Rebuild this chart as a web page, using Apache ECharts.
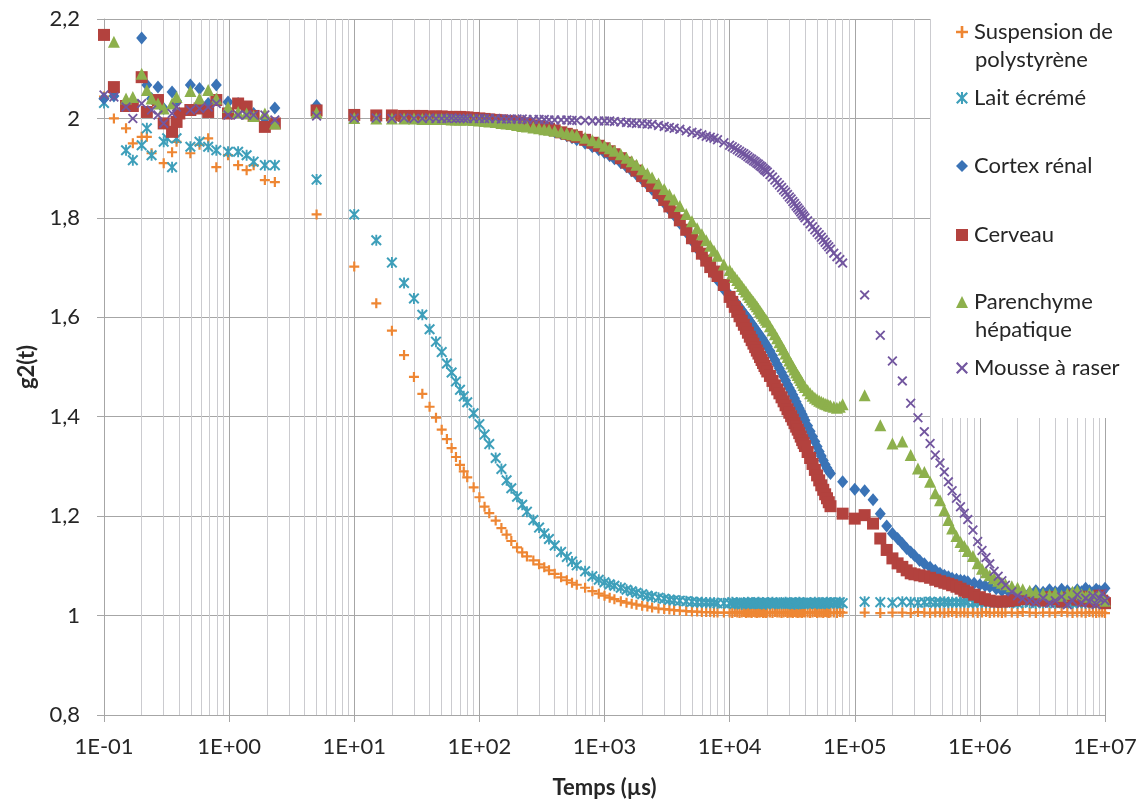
<!DOCTYPE html>
<html><head><meta charset="utf-8">
<script src="https://cdn.jsdelivr.net/npm/echarts@6/dist/echarts.min.js"></script>
<style>html,body{margin:0;padding:0;background:#fff}#chart{width:1143px;height:808px}</style>
</head><body><div id="chart"></div>
<script>
// ---------- DATA ----------
const timesEarly = [0.1,0.12,0.15,0.17,0.2,0.22,0.24,0.27,0.3,0.32,0.35,0.38,0.4,0.49,0.58,0.68,0.79,0.98,1.18,1.38,1.57,1.93,2.32];
const timesDense = [5,10,15,20,25,30,35,40,45,50,55,60,65,70,75,80,
  90,100,110,120,135,150,165,180,200,220,240,270,300,330,360,400,450,500,550,600,700,800,900,
  1000,1100,1200,1350,1500,1650,1800,2000,2200,2400,2700,3000,3300,3600,4000,4500,5000,5500,6000,6500,7000,7500,8000,9000,
  10000,10500,11000,11500,12000,12500,13000,13500,14000,14500,15000,15500,16000,16500,17000,17500,18000,18500,19000,19500,20000,
  21000,22000,23000,24000,25000,26000,27000,28000,29000,30000,31000,32000,33000,34000,35000,36000,37000,38000,39000,40000,
  42000,44000,46000,48000,50000,52000,54000,56000,58000,60000,62000,64000];
const timesTailA = [80000,100000,120000,140000,160000,180000,200000,220000,240000,260000,280000,
  300000,330000,360000,400000,440000,480000,520000,560000,600000,650000,700000,750000,800000,900000,
  1e6,1.1e6,1.2e6,1.35e6,1.5e6,1.7e6,1.9e6,2.2e6,2.5e6,2.8e6,
  3.2e6,3.6e6,4e6,4.5e6,5e6,5.5e6,6e6,6.5e6,7e6,7.5e6,8e6,8.5e6,9e6,9.5e6,1e7];
const timesTailB = [68000,72000,76000,80000,
  120000,160000,200000,240000,280000,320000,360000,400000,440000,480000,520000,560000,600000,650000,700000,750000,800000,
  880000,960000,1.04e6,1.12e6,1.2e6,1.3e6,1.4e6,1.5e6,1.6e6,1.8e6,2e6,2.2e6,2.5e6,2.8e6,
  3.2e6,3.6e6,4e6,4.5e6,5e6,5.5e6,6e6,6.5e6,7e6,7.5e6,8e6,8.5e6,9e6,9.5e6,1e7];

const seriesNames = ['Suspension de polystyrène','Lait écrémé','Cortex rénal','Cerveau','Parenchyme hépatique','Mousse à raser'];

// Suspension de polystyrène
const polyEarly = [2.044,2.0,1.98,1.95,1.963,1.963,1.93,null,1.91,null,1.932,1.953,null,1.93,1.947,1.96,1.902,1.926,1.906,1.896,1.906,1.876,1.872];
const polyDense = [1.807,1.702,1.628,1.573,1.524,1.480,1.446,1.420,1.398,1.374,1.355,1.337,1.319,1.303,1.290,1.278,
  1.258,1.238,1.219,1.206,1.191,1.176,1.163,1.150,1.137,1.127,1.119,1.111,1.103,1.097,1.091,1.084,1.077,1.071,1.066,1.062,1.056,1.049,1.044,
  1.040,1.036,1.033,1.029,1.026,1.024,1.022,1.020,1.018,1.016,1.014,1.013,1.012,1.011,1.010,1.009,1.008,1.008,1.007,1.007,1.007,1.006,1.006,1.006,
  1.006,1.005,1.007,1.006,1.005,1.006,1.007,1.005,1.006,1.006,1.005,1.007,1.006,1.005,1.006,1.006,1.007,1.005,1.006,1.005,1.006,
  1.006,1.005,1.007,1.006,1.006,1.005,1.006,1.007,1.005,1.006,1.006,1.005,1.007,1.006,1.005,1.006,1.006,1.005,1.007,1.006,
  1.006,1.005,1.006,1.007,1.005,1.006,1.006,1.005,1.007,1.006,1.005,1.006];
const polyTail = [1.006,1.005,1.007,1.006,
  1.006,1.005,1.006,1.006,1.005,1.007,1.006,1.005,1.006,1.006,1.005,1.006,1.007,1.005,1.006,1.006,1.005,
  1.006,1.005,1.006,1.007,1.005,1.006,1.006,1.005,1.006,1.006,1.005,1.007,1.006,1.005,
  1.006,1.006,1.005,1.007,1.006,1.005,1.006,1.006,1.005,1.007,1.006,1.005,1.006,1.006,1.005];

// Lait écrémé
const laitEarly = [2.031,null,1.936,1.916,1.946,1.98,1.926,null,1.953,1.96,1.902,1.96,null,1.943,1.953,1.943,1.936,1.933,1.933,1.926,1.913,1.906,1.906];
const laitDense = [1.877,1.807,1.755,1.710,1.669,1.638,1.605,1.576,1.551,1.530,1.507,1.489,1.471,1.454,1.441,1.429,
  1.407,1.385,1.364,1.345,1.317,1.295,1.272,1.256,1.239,1.223,1.209,1.192,1.177,1.165,1.154,1.141,1.128,1.118,1.109,1.101,1.089,1.079,1.072,
  1.067,1.063,1.060,1.056,1.052,1.049,1.046,1.043,1.040,1.038,1.036,1.034,1.032,1.031,1.030,1.029,1.028,1.027,1.027,1.026,1.026,1.026,1.025,1.025,
  1.025,1.027,1.024,1.026,1.025,1.023,1.026,1.025,1.027,1.024,1.025,1.026,1.024,1.025,1.027,1.025,1.024,1.026,1.025,1.023,1.026,
  1.025,1.027,1.024,1.025,1.026,1.024,1.025,1.027,1.025,1.024,1.026,1.025,1.023,1.026,1.025,1.027,1.024,1.025,1.026,1.025,
  1.024,1.026,1.025,1.027,1.024,1.025,1.026,1.025,1.024,1.027,1.025,1.026];
const laitTail = [1.026,1.025,1.027,1.025,
  1.028,1.027,1.026,1.028,1.027,1.026,1.027,1.028,1.026,1.027,1.028,1.026,1.027,1.027,1.026,1.028,1.027,
  1.026,1.027,1.028,1.026,1.027,1.026,1.028,1.027,1.026,1.027,1.025,1.027,1.026,1.025,
  1.026,1.027,1.025,1.026,1.027,1.025,1.026,1.027,1.025,1.026,1.027,1.026,1.025,1.027,1.026];

// Cortex rénal
const cortexEarly = [2.04,2.045,2.03,null,2.162,2.067,2.04,2.063,2.02,null,2.053,2.035,2.01,2.067,2.06,2.03,2.067,2.033,2.03,2.016,2.01,2.0,2.021];
const cortexDense = [2.026,2.006,2.004,2.004,2.003,2.003,2.003,2.003,2.002,2.002,2.002,2.002,2.001,2.001,2.001,2.000,
  2.000,1.999,1.998,1.997,1.996,1.995,1.994,1.993,1.991,1.989,1.987,1.985,1.982,1.979,1.977,1.973,1.969,1.965,1.961,1.957,1.950,1.943,1.937,
  1.931,1.925,1.919,1.911,1.903,1.895,1.887,1.877,1.867,1.857,1.843,1.830,1.817,1.805,1.789,1.771,1.754,1.738,1.724,1.710,1.697,1.686,1.675,1.656,
  1.645,1.638,1.632,1.626,1.620,1.614,1.608,1.603,1.598,1.592,1.587,1.582,1.577,1.572,1.568,1.563,1.559,1.554,1.550,1.545,1.541,
  1.532,1.523,1.514,1.505,1.497,1.489,1.481,1.473,1.465,1.458,1.451,1.444,1.437,1.430,1.423,1.417,1.411,1.405,1.399,1.393,
  1.382,1.371,1.360,1.350,1.340,1.330,1.321,1.312,1.304,1.297,1.291,1.286];
const cortexTail = [1.269,1.254,1.251,1.233,1.205,1.180,1.165,1.155,1.145,1.135,1.128,
  1.121,1.111,1.104,1.097,1.091,1.085,1.081,1.078,1.075,1.073,1.071,1.070,1.068,1.065,
  1.062,1.060,1.058,1.054,1.050,1.048,1.046,1.044,1.046,1.050,
  1.047,1.052,1.048,1.053,1.050,1.045,1.052,1.048,1.055,1.050,1.046,1.053,1.050,1.048,1.055];

// Cerveau
const cerveauEarly = [2.168,2.063,2.025,2.025,2.083,2.013,null,2.037,1.99,null,1.973,1.993,2.01,2.017,2.02,2.013,2.037,2.01,2.03,2.024,2.005,1.983,1.99];
const cerveauDense = [2.016,2.007,2.006,2.006,2.005,2.005,2.005,2.004,2.004,2.004,2.003,2.003,2.003,2.003,2.002,2.002,
  2.001,2.000,1.999,1.998,1.997,1.996,1.995,1.994,1.992,1.990,1.989,1.986,1.984,1.981,1.979,1.976,1.972,1.969,1.966,1.963,1.957,1.951,1.945,
  1.940,1.934,1.928,1.920,1.911,1.903,1.895,1.884,1.874,1.864,1.850,1.836,1.823,1.811,1.795,1.776,1.759,1.743,1.728,1.714,1.701,1.692,1.683,1.665,
  1.641,1.631,1.621,1.611,1.602,1.593,1.585,1.577,1.569,1.561,1.554,1.547,1.540,1.533,1.527,1.520,1.514,1.508,1.502,1.497,1.491,
  1.482,1.472,1.463,1.455,1.447,1.439,1.431,1.423,1.415,1.408,1.401,1.394,1.387,1.380,1.374,1.367,1.360,1.353,1.347,1.341,
  1.329,1.317,1.305,1.293,1.282,1.272,1.262,1.253,1.244,1.236,1.228,1.220];
const cerveauTail = [1.205,1.195,1.202,1.185,1.155,1.132,1.115,1.105,1.098,1.091,1.085,
  1.083,1.081,1.079,1.076,1.072,1.069,1.066,1.064,1.061,1.058,1.054,1.050,1.047,1.042,
  1.037,1.033,1.030,1.028,1.028,1.029,1.031,1.033,1.035,1.032,
  1.030,1.037,1.033,1.028,1.036,1.040,1.032,1.038,1.030,1.035,1.028,1.034,1.040,1.030,1.025];

// Parenchyme hépatique
const parenEarly = [null,2.154,2.04,2.043,2.09,2.057,2.04,2.03,2.02,null,2.03,2.043,null,2.055,2.04,2.057,2.04,2.023,2.013,2.01,2.005,2.01,1.99];
const parenDense = [2.012,2.001,2.000,2.000,2.000,2.000,1.999,1.999,1.999,1.999,1.999,1.998,1.998,1.998,1.998,1.998,
  1.997,1.996,1.995,1.994,1.993,1.991,1.990,1.989,1.987,1.985,1.984,1.982,1.980,1.978,1.977,1.975,1.973,1.970,1.968,1.966,1.961,1.956,1.952,
  1.945,1.940,1.935,1.928,1.921,1.914,1.907,1.898,1.889,1.881,1.869,1.858,1.847,1.837,1.824,1.808,1.793,1.779,1.767,1.755,1.744,1.734,1.724,1.706,
  1.695,1.688,1.681,1.675,1.669,1.663,1.657,1.652,1.646,1.641,1.636,1.631,1.626,1.622,1.617,1.612,1.608,1.603,1.599,1.595,1.591,
  1.582,1.574,1.566,1.558,1.550,1.542,1.535,1.527,1.520,1.513,1.507,1.501,1.495,1.489,1.484,1.479,1.474,1.469,1.464,1.460,
  1.453,1.447,1.442,1.438,1.435,1.432,1.430,1.428,1.426,1.425,1.423,1.422];
const parenTail = [1.420,1.418,1.420,1.425,
  1.443,1.383,1.346,1.350,1.323,1.296,1.289,1.269,1.246,1.232,1.212,1.192,1.175,1.160,1.148,1.140,1.130,
  1.120,1.105,1.094,1.087,1.081,1.075,1.070,1.066,1.063,1.059,1.056,1.053,1.050,1.047,
  1.044,1.042,1.045,1.040,1.044,1.048,1.050,1.043,1.038,1.045,1.040,1.036,1.042,1.035,1.030];

// Mousse à raser
const mousseEarly = [2.047,2.043,2.023,2.0,2.03,null,2.017,2.007,1.99,null,2.01,2.023,null,2.017,2.02,2.023,2.03,2.007,2.007,2.007,2.007,2.007,1.997];
const mousseDense = [2.005,2.001,2.001,2.000,2.001,2.000,2.000,2.001,2.000,2.000,2.000,2.001,2.000,2.000,2.000,2.000,
  2.000,2.000,2.000,2.000,2.000,1.999,1.999,1.999,1.999,1.999,1.998,1.998,1.998,1.998,1.997,1.997,1.997,1.997,1.996,1.996,1.996,1.995,1.995,
  1.995,1.995,1.994,1.993,1.992,1.991,1.990,1.990,1.989,1.988,1.986,1.984,1.982,1.980,1.978,1.975,1.972,1.970,1.967,1.964,1.962,1.960,1.957,1.951,
  1.946,1.943,1.940,1.937,1.934,1.931,1.929,1.926,1.923,1.920,1.918,1.915,1.913,1.910,1.908,1.905,1.903,1.900,1.897,1.895,1.892,
  1.887,1.882,1.876,1.871,1.866,1.861,1.856,1.852,1.847,1.842,1.838,1.833,1.829,1.824,1.820,1.816,1.812,1.808,1.804,1.800,
  1.794,1.788,1.782,1.776,1.771,1.766,1.761,1.756,1.751,1.746,1.742,1.737];
const mousseTail = [1.729,1.722,1.716,1.709,
  1.645,1.564,1.512,1.472,1.427,1.398,1.370,1.346,1.323,1.307,1.289,1.269,1.251,1.236,1.219,1.206,1.193,
  1.172,1.149,1.131,1.117,1.104,1.089,1.079,1.070,1.061,1.048,1.040,1.034,1.030,1.027,
  1.035,1.025,1.030,1.038,1.022,1.030,1.042,1.025,1.035,1.028,1.040,1.022,1.035,1.045,1.030];

// ---------- helpers ----------
function pairs(groups) {
  const out = [];
  groups.forEach(([ts, ys]) => {
    if (ts.length !== ys.length) console.error('length mismatch', ts.length, ys.length);
    ts.forEach((t, i) => { if (ys[i] != null) out.push([t, ys[i]]); });
  });
  return out;
}
const FONT = 'Lato, "Open Sans", sans-serif';
const FS = 22;
const TXT = '#262626';
const GRID_MAJOR = '#A6A6A6';
const GRID_MINOR = '#CBCBCF';
const COLORS = ['#EE8633', '#3E9FBA', '#3A73B6', '#B3423E', '#8DB04C', '#72569F'];
const SYM_PLUS = 'path://M3.9,0H6.1V3.9H10V6.1H6.1V10H3.9V6.1H0V3.9H3.9Z';
const SYM_X = 'path://M0,1.3L1.3,0L5,3.7L8.7,0L10,1.3L6.3,5L10,8.7L8.7,10L5,6.3L1.3,10L0,8.7L3.7,5Z';
const SYM_STAR = 'path://M0,1.3L1.3,0L5,3.7L8.7,0L10,1.3L6.3,5L10,8.7L8.7,10L5,6.3L1.3,10L0,8.7L3.7,5Z M4.15,0H5.85V10H4.15Z';

// minor (2..9 x 10^k) vertical gridline positions for the log axis
const minorGrid = [];
for (let k = -1; k < 7; k++) for (let m = 2; m <= 9; m++) minorGrid.push(+(m * Math.pow(10, k)).toPrecision(3));

const seriesData = [
  pairs([[timesEarly, polyEarly], [timesDense, polyDense], [timesTailB, polyTail]]),
  pairs([[timesEarly, laitEarly], [timesDense, laitDense], [timesTailB, laitTail]]),
  pairs([[timesEarly, cortexEarly], [timesDense, cortexDense], [timesTailA, cortexTail]]),
  pairs([[timesEarly, cerveauEarly], [timesDense, cerveauDense], [timesTailA, cerveauTail]]),
  pairs([[timesEarly, parenEarly], [timesDense, parenDense], [timesTailB, parenTail]]),
  pairs([[timesEarly, mousseEarly], [timesDense, mousseDense], [timesTailB, mousseTail]])
];
const symbols = [SYM_PLUS, SYM_STAR, 'diamond', 'rect', 'triangle', SYM_X];
const sizes = [10, 11, [11, 13], 12, 12, 10];

const series = [{
  type: 'scatter', data: [], z: 1, silent: true,
  markLine: {
    silent: true, z: 1, animation: false, symbol: ['none', 'none'],
    label: { show: false }, emphasis: { disabled: true },
    lineStyle: { color: GRID_MINOR, width: 1, type: 'solid' },
    data: minorGrid.map(v => ({ xAxis: v }))
  }
}];
seriesNames.forEach((name, i) => {
  series.push({
    name, type: 'scatter', data: seriesData[i], symbol: symbols[i], symbolSize: sizes[i],
    itemStyle: { color: COLORS[i], opacity: 1 }, z: 2, animation: false,
    emphasis: { disabled: true }
  });
});

// legend: one block per item, placed like the reference
const legendFirstLines = ['Suspension de', 'Lait écrémé', 'Cortex rénal', 'Cerveau', 'Parenchyme', 'Mousse à raser'];
const legendCenters = [32, 98, 166, 235, 302, 368];
const legends = seriesNames.map((name, i) => ({
  data: [name], left: 956, top: legendCenters[i] - 13, padding: 0,
  itemWidth: 12, itemHeight: 12, selectedMode: false, z: 5,
  formatter: () => legendFirstLines[i],
  textStyle: { fontFamily: FONT, fontSize: FS, color: TXT, lineHeight: 26, padding: [0, 0, 0, 1] }
}));

const chart = echarts.init(document.getElementById('chart'), null, { renderer: 'canvas' });
chart.setOption({
  animation: false,
  backgroundColor: '#fff',
  grid: { left: 104, right: 38, top: 19, bottom: 93, containLabel: false },
  xAxis: {
    type: 'log', logBase: 10, min: 0.1, max: 1e7, splitNumber: 8,
    name: 'Temps (µs)', nameLocation: 'middle', nameGap: 62,
    nameTextStyle: { fontFamily: FONT, fontSize: FS, fontWeight: 'bold', color: TXT },
    axisLine: { show: true, lineStyle: { color: GRID_MAJOR, width: 1 } },
    axisTick: { show: true, length: 7, lineStyle: { color: GRID_MAJOR } },
    axisLabel: {
      margin: 21, fontFamily: FONT, fontSize: FS, color: TXT,
      formatter: v => { const e = Math.round(Math.log10(v)); return '1E' + (e < 0 ? '-' : '+') + String(Math.abs(e)).padStart(2, '0'); }
    },
    splitLine: { show: true, lineStyle: { color: GRID_MAJOR, width: 1 } }
  },
  yAxis: {
    type: 'value', min: 0.8, max: 2.2, interval: 0.2,
    name: 'g2(t)', nameLocation: 'middle', nameGap: 66,
    nameTextStyle: { fontFamily: FONT, fontSize: FS, fontWeight: 'bold', color: TXT },
    axisLine: { show: true, lineStyle: { color: GRID_MAJOR, width: 1 } },
    axisTick: { show: true, length: 7, lineStyle: { color: GRID_MAJOR } },
    axisLabel: {
      margin: 24, fontFamily: FONT, fontSize: FS, color: TXT,
      formatter: v => String(Math.round(v * 10) / 10).replace('.', ',')
    },
    splitLine: { show: true, lineStyle: { color: GRID_MAJOR, width: 1 } }
  },
  legend: legends,
  graphic: [
    { type: 'rect', silent: true, z: 3, shape: { x: 931, y: 0, width: 212, height: 418 }, style: { fill: '#fff' } },
    { type: 'text', silent: true, z: 5, x: 975, y: 60, style: { text: 'polystyrène', font: FS + 'px ' + FONT, fill: TXT, verticalAlign: 'middle' } },
    { type: 'text', silent: true, z: 5, x: 975, y: 330, style: { text: 'hépatique', font: FS + 'px ' + FONT, fill: TXT, verticalAlign: 'middle' } }
  ],
  series
});
</script></body></html>
